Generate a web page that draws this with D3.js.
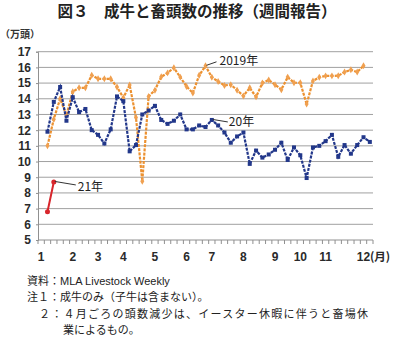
<!DOCTYPE html>
<html><head><meta charset="utf-8">
<script src="https://cdn.jsdelivr.net/npm/d3@7"></script>
<style>
html,body{margin:0;padding:0;background:#fff;}
svg{display:block;}
text{font-family:"Liberation Sans","Noto Sans CJK JP",sans-serif;}
.jp{font-family:"Noto Sans CJK JP","Liberation Sans",sans-serif;}
</style></head>
<body>
<script>
// ---- data ----
const title = "図３　成牛と畜頭数の推移（週間報告）";
const yUnit = "（万頭）";
const monthLabels = ["1","2","3","4","5","6","7","8","9","10","11","12"];
const monthStartWeek = [1,6,10,14,19,24,28,33,38,42,46,52];
const weekCount = 53;
const firstWeek = 2;
const yTicks = [5,6,7,8,9,10,11,12,13,14,15,16,17];
const y2019 = [11.0,12.7,14.0,12.95,14.45,14.7,14.7,15.5,15.27,15.27,15.27,14.75,14.07,14.88,12.8,8.75,
  14.15,14.55,15.4,15.65,15.98,15.38,14.78,14.37,15.5,16.1,15.37,15.1,14.85,14.9,14.55,14.18,14.7,14.12,
  15.0,15.2,14.9,14.58,15.38,15.02,15.02,13.66,15.14,15.37,15.46,15.46,15.47,15.7,15.85,15.7,16.1];
const y2020 = [11.9,13.8,14.75,12.6,14.1,13.15,13.35,12.0,11.7,11.15,12.05,14.15,13.85,10.65,11.05,13.0,
  13.25,13.55,12.65,12.4,12.6,13.0,12.05,12.05,12.3,12.2,12.65,12.3,11.85,11.2,11.6,11.85,9.85,10.7,
  10.25,10.45,10.75,11.2,10.1,10.9,10.4,8.95,10.9,11.0,11.3,11.7,10.3,11.05,10.5,11.05,11.55,11.25];
const y2021 = [6.8,8.7];
const seriesNames = ["2019年","20年","21年"];
const notes = ["資料：MLA Livestock Weekly","注１：成牛のみ（子牛は含まない）。",
  "２：４月ごろの頭数減少は、イースター休暇に伴うと畜場休","業によるもの。"];

// ---- chart ----
const W = 395, H = 337;
const svg = d3.select("body").append("svg").attr("width", W).attr("height", H);
const x = d3.scaleBand().domain(d3.range(1, weekCount + 1)).range([38, 373]);
const y = d3.scaleLinear().domain([5, 17]).range([240, 51.7]);
const cx = w => x(w) + x.bandwidth() / 2;

svg.append("text").attr("class","jp").attr("x", 197).attr("y", 17).attr("text-anchor","middle")
  .attr("font-size", 15.5).attr("font-weight","bold").attr("fill","#222").text(title);
svg.append("text").attr("class","jp").attr("x", 0).attr("y", 38)
  .attr("font-size", 10).attr("font-weight","bold").attr("fill","#333").text(yUnit);

// grid
svg.append("g").selectAll("line").data(yTicks.filter(t => t > 5)).join("line")
  .attr("x1", 38).attr("x2", 373).attr("y1", d => y(d)).attr("y2", d => y(d))
  .attr("stroke", "#a0a0a0").attr("stroke-width", 1);

// y axis
const ya = svg.append("g").attr("transform","translate(38,0)")
  .call(d3.axisLeft(y).tickValues(yTicks).tickSize(2).tickPadding(5).tickFormat(d3.format("d")));
ya.select(".domain").attr("stroke","#909090");
ya.selectAll(".tick line").attr("stroke","#909090");
ya.selectAll("text").attr("font-size", 12).attr("font-weight","bold").attr("fill","#2a2a2a")
  .attr("font-family","Liberation Sans");

// x axis
svg.append("line").attr("x1",38).attr("x2",373).attr("y1",y(5)).attr("y2",y(5)).attr("stroke","#909090");
svg.append("g").selectAll("line").data(d3.range(1, weekCount + 2)).join("line")
  .attr("x1", w => w <= weekCount ? x(w) : x(weekCount) + x.bandwidth())
  .attr("x2", w => w <= weekCount ? x(w) : x(weekCount) + x.bandwidth())
  .attr("y1", y(5)).attr("y2", y(5) + 4).attr("stroke","#909090");
svg.append("g").selectAll("text").data(monthLabels).join("text")
  .attr("x", (d,i) => cx(monthStartWeek[i])).attr("y", 261).attr("text-anchor","middle")
  .attr("font-size", 12).attr("font-weight","bold").attr("fill","#2a2a2a").text(d => d);
svg.append("text").attr("class","jp").attr("x", 370).attr("y", 261).attr("font-size", 11.5)
  .attr("font-weight","bold").attr("fill","#2a2a2a").text("(月)");

// series
const line = d3.line().x(d => cx(d.w)).y(d => y(d.v));
const toPts = arr => arr.map((v,i) => ({w: firstWeek + i, v}));
const p19 = toPts(y2019), p20 = toPts(y2020), p21 = toPts(y2021);

svg.append("path").datum(p19).attr("d", line).attr("fill","none")
  .attr("stroke","#ec9130").attr("stroke-width",2.2).attr("stroke-dasharray","3,1.2");
svg.append("g").selectAll("path").data(p19).join("path")
  .attr("d", d3.symbol(d3.symbolDiamond, 14)).attr("transform", d => `translate(${cx(d.w)},${y(d.v)})`)
  .attr("fill","#f0a050");

svg.append("path").datum(p20).attr("d", line).attr("fill","none")
  .attr("stroke","#22378a").attr("stroke-width",2.2).attr("stroke-dasharray","3,1.2");
svg.append("g").selectAll("rect").data(p20).join("rect")
  .attr("x", d => cx(d.w) - 2).attr("y", d => y(d.v) - 2).attr("width",4).attr("height",4)
  .attr("fill","#22378a");

svg.append("path").datum(p21).attr("d", line).attr("fill","none")
  .attr("stroke","#d8262c").attr("stroke-width",2);
svg.append("g").selectAll("circle").data(p21).join("circle")
  .attr("cx", d => cx(d.w)).attr("cy", d => y(d.v)).attr("r",2.5).attr("fill","#d8262c");

// annotations
function annotate(pt, dx1, dy1, tx, ty, label){
  const px = cx(pt.w), py = y(pt.v);
  svg.append("line").attr("x1", px + 1).attr("y1", py - 0.5).attr("x2", px + dx1).attr("y2", py + dy1)
    .attr("stroke","#333").attr("stroke-width",1);
  svg.append("text").attr("class","jp").attr("x", px + tx).attr("y", py + ty)
    .attr("font-size", 12).attr("fill","#222").text(label);
}
const peak19 = p19.reduce((a,b) => (b.w < 30 && b.v > a.v) ? b : a);
annotate(peak19, 11, -4, 14, -1, seriesNames[0]);
const peak20 = p20.filter(d => d.w > 24 && d.w < 32).reduce((a,b) => b.v > a.v ? b : a);
annotate(peak20, 16, 2, 17, 6, seriesNames[1]);
annotate(p21[1], 22, 3, 24, 9, seriesNames[2]);

// notes
const nt = svg.append("g").attr("class","jp").attr("font-size", 11).attr("fill","#222");
nt.append("text").attr("x", 27).attr("y", 285).text(notes[0]);
nt.append("text").attr("x", 27).attr("y", 301).text(notes[1]);
nt.append("text").attr("x", 39).attr("y", 318).attr("textLength", 329).attr("lengthAdjust","spacing").text(notes[2]);
nt.append("text").attr("x", 63).attr("y", 334).text(notes[3]);
</script>
</body></html>
